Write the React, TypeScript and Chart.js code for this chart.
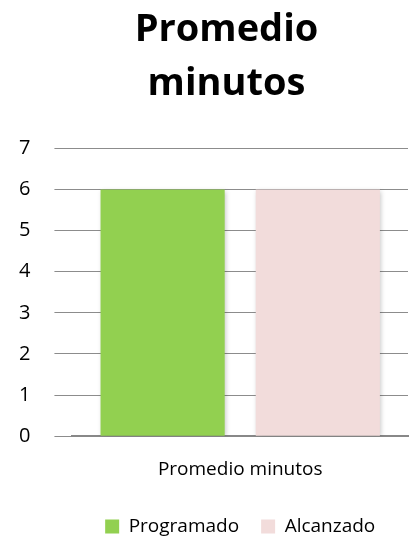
import React, { useEffect, useRef } from "react";
import { Chart, registerables } from "chart.js";
Chart.register(...registerables);

const categories = ["Promedio minutos"];
const programado = [6];
const alcanzado = [6];
const seriesNames = ["Programado", "Alcanzado"];
const titleLines = ["Promedio", "minutos"];

const FONT = "'Open Sans', sans-serif";

export default function App() {
  const ref = useRef<HTMLCanvasElement>(null);
  useEffect(() => {
    document.body.style.margin = "0";
    const shadowPlugin = {
      id: "barShadow",
      afterLayout(chart: any) {
        // Excel centres the title a little right of the canvas centre
        if (chart.titleBlock) chart.titleBlock.left += 50;
      },
      beforeDatasetsDraw(chart: any) {
        const ctx = chart.ctx;
        ctx.save();
        ctx.shadowColor = "rgba(0,0,0,0.25)";
        ctx.shadowBlur = 5;
        ctx.shadowOffsetX = 1;
        ctx.shadowOffsetY = 1;
      },
      afterDatasetsDraw(chart: any) {
        chart.ctx.restore();
      },
    };
    const chart = new Chart(ref.current!, {
      type: "bar",
      data: {
        labels: categories,
        datasets: [
          { label: seriesNames[0], data: programado, backgroundColor: "#92D050" },
          { label: seriesNames[1], data: alcanzado, backgroundColor: "#F2DCDB" },
        ],
      },
      options: {
        animation: false,
        responsive: false,
        layout: { padding: { left: -5, right: 3, top: 0, bottom: -3 } },
        datasets: { bar: { barPercentage: 0.8, categoryPercentage: 0.925 } } as any,
        plugins: {
          title: {
            display: true,
            text: titleLines,
            font: { family: FONT, size: 38, weight: "bold", lineHeight: 1.4 },
            color: "#000",
            padding: { top: 4, bottom: 38 },
          },
          legend: {
            position: "bottom",
            fullSize: false,
            labels: {
              font: { family: FONT, size: 19 },
              color: "#000",
              boxWidth: 14,
              boxHeight: 14,
              padding: 22,
            },
          },
          tooltip: { enabled: false },
        },
        scales: {
          x: {
            grid: { display: false },
            border: { display: true, color: "#888", width: 2 },
            ticks: { font: { family: FONT, size: 19 }, color: "#000", padding: 14 },
          },
          y: {
            min: 0,
            max: 7,
            ticks: { stepSize: 1, font: { family: FONT, size: 20 }, color: "#000", padding: 24 },
            grid: { color: "#8c8c8c", lineWidth: 1, tickLength: 18 },
            border: { display: false },
          },
        },
      },
      plugins: [shadowPlugin],
    });
    return () => chart.destroy();
  }, []);
  return <canvas ref={ref} width={411} height={543} style={{ display: "block" }} />;
}
